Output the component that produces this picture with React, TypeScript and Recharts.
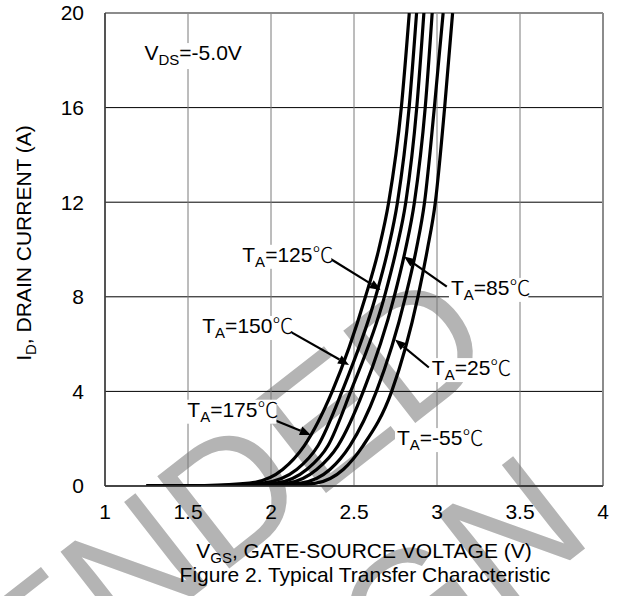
import { LineChart, Line, XAxis, YAxis, CartesianGrid, ReferenceLine, ReferenceDot } from 'recharts'

// drain current levels (A) at which each curve was read
const currents = [0, 0.02, 0.12, 0.7, 1.7, 4, 8, 10, 12, 16, 20]

// gate-source voltage (V) for each temperature at the currents above
const vgs175 = [1.25, 1.6, 1.87, 2.07, 2.2, 2.369, 2.569, 2.649, 2.709, 2.785, 2.833]
const vgs150 = [1.25, 1.7, 1.95, 2.155, 2.283, 2.428, 2.63, 2.705, 2.762, 2.832, 2.877]
const vgs125 = [1.25, 1.8, 2.03, 2.215, 2.343, 2.48, 2.683, 2.755, 2.812, 2.878, 2.921]
const vgs85 = [1.25, 1.9, 2.1, 2.275, 2.403, 2.556, 2.742, 2.81, 2.864, 2.929, 2.971]
const vgs25 = [1.25, 2.0, 2.18, 2.355, 2.475, 2.635, 2.81, 2.875, 2.925, 2.984, 3.037]
const vgsM55 = [1.25, 2.1, 2.27, 2.435, 2.554, 2.727, 2.885, 2.942, 2.99, 3.046, 3.094]

const xTicks = [1, 1.5, 2, 2.5, 3, 3.5, 4]
const yTicks = [0, 4, 8, 12, 16, 20]

const temps = ['175', '150', '125', '85', '25', '-55']

// label anchors in data coords (V, A) and arrow segments (from -> tip)
const labelPos: [number, number][] = [
  [1.496, 2.93],
  [1.586, 6.47],
  [1.827, 9.48],
  [3.084, 8.08],
  [2.969, 4.69],
  [2.759, 1.73],
]
const arrows: [number, number, number, number][] = [
  [1.901, 3.13, 2.24, 2.16],
  [2.097, 6.6, 2.47, 5.12],
  [2.35, 9.64, 2.661, 8.29],
  [3.059, 8.43, 2.801, 9.7],
  [2.951, 5.01, 2.747, 6.19],
]

const FONT = 'Arial, "Liberation Sans", sans-serif'
const CJK = '"Noto Sans CJK SC", sans-serif'

const series = [vgs175, vgs150, vgs125, vgs85, vgs25, vgsM55].map((vs) =>
  vs.map((v, i) => ({ v, i: currents[i] }))
)

function TempLabel({ cx, cy, t }: any) {
  const w = t.length * 11.7 + 56
  return (
    <g>
      <rect x={cx - 2} y={cy - 17} width={w} height={24} fill="#fff" />
      <text x={cx} y={cy} fontSize={21} fontFamily={FONT} fill="#000">
        T<tspan fontSize={15} dy={5}>A</tspan>
        <tspan dy={-5}>={t}</tspan>
        <tspan fontFamily={CJK} fontWeight={300}>℃</tspan>
      </text>
    </g>
  )
}

function VdsLabel({ cx, cy }: any) {
  return (
    <g>
      <rect x={cx - 2} y={cy - 17} width={98} height={26} fill="#fff" />
      <text x={cx} y={cy} fontSize={21} fontFamily={FONT} fill="#000">
        V<tspan fontSize={15} dy={5}>DS</tspan>
        <tspan dy={-5}>=-5.0V</tspan>
      </text>
    </g>
  )
}

function Arrow({ x1, y1, x2, y2 }: any) {
  const dx = x2 - x1
  const dy = y2 - y1
  const len = Math.sqrt(dx * dx + dy * dy) || 1
  const ux = dx / len
  const uy = dy / len
  const hl = 11
  const hw = 4.5
  const bx = x2 - ux * hl
  const by = y2 - uy * hl
  return (
    <g>
      <line x1={x1} y1={y1} x2={bx} y2={by} stroke="#000" strokeWidth={2.2} />
      <polygon
        points={`${x2},${y2} ${bx - uy * hw},${by + ux * hw} ${bx + uy * hw},${by - ux * hw}`}
        fill="#000"
      />
    </g>
  )
}

export default function App() {
  return (
    <div style={{ position: 'absolute', left: 0, top: 0, width: 628, height: 596, background: '#fff', overflow: 'hidden' }}>
      <svg width={628} height={596} style={{ position: 'absolute', left: 0, top: 0 }}>
        <g fill="#b4b4b4" fontFamily={FONT} fontSize={170}>
          <text x={501} y={356} textAnchor="end" transform="rotate(-38 501 356)">
            NOT RECOMMENDED
          </text>
          <text x={596} y={540} textAnchor="end" transform="rotate(-38 596 540)">
            FOR NEW DESIGN
          </text>
        </g>
      </svg>
      <div style={{ position: 'absolute', left: 0, top: 0 }}>
        <LineChart width={628} height={596} margin={{ top: 13, right: 25, bottom: 80, left: 0 }}>
          <CartesianGrid vertical={false} stroke="#000" strokeWidth={1} />
          <CartesianGrid horizontal={false} stroke="#7a7a7a" strokeWidth={1} />
          <XAxis
            type="number"
            dataKey="v"
            domain={[1, 4]}
            ticks={xTicks}
            allowDataOverflow
            height={30}
            tickSize={0}
            tickMargin={18}
            axisLine={{ stroke: '#333', strokeWidth: 1.5 }}
            tick={{ fontSize: 21, fill: '#000', fontFamily: FONT }}
          />
          <YAxis
            type="number"
            dataKey="i"
            domain={[0, 20]}
            ticks={yTicks}
            allowDataOverflow
            width={105}
            tickSize={0}
            tickMargin={21}
            axisLine={{ stroke: '#333', strokeWidth: 1.5 }}
            tick={{ fontSize: 21, fill: '#000', fontFamily: FONT }}
          />
          <ReferenceLine y={20} stroke="#8c8c8c" strokeWidth={2} />
          <ReferenceLine x={4} stroke="#8c8c8c" strokeWidth={2} />
          {series.map((d, k) => (
            <Line
              key={temps[k]}
              data={d}
              dataKey="i"
              type="monotone"
              stroke="#000"
              strokeWidth={3.2}
              dot={false}
              isAnimationActive={false}
            />
          ))}
          {arrows.map((a, k) => (
            <ReferenceLine
              key={'ar' + k}
              segment={[{ x: a[0], y: a[1] }, { x: a[2], y: a[3] }]}
              ifOverflow="visible"
              shape={(p: any) => <Arrow {...p} />}
            />
          ))}
          {labelPos.map((p, k) => (
            <ReferenceDot
              key={'lb' + k}
              x={p[0]}
              y={p[1]}
              r={0}
              ifOverflow="visible"
              shape={(s: any) => <TempLabel cx={s.cx} cy={s.cy} t={temps[k]} />}
            />
          ))}
          <ReferenceDot x={1.238} y={18.01} r={0} ifOverflow="visible" shape={(s: any) => <VdsLabel cx={s.cx} cy={s.cy} />} />
        </LineChart>
      </div>
      <svg width={628} height={596} style={{ position: 'absolute', left: 0, top: 0, pointerEvents: 'none' }}>
        <g fontFamily={FONT} fontSize={21} fill="#000">
          <text x={24} y={243} textAnchor="middle" transform="rotate(-90 24 243)" dy={7}>
            I<tspan fontSize={15} dy={5}>D</tspan>
            <tspan dy={-5}>, DRAIN CURRENT (A)</tspan>
          </text>
          <text x={364} y={558} textAnchor="middle">
            V<tspan fontSize={15} dy={5}>GS</tspan>
            <tspan dy={-5}>, GATE-SOURCE VOLTAGE (V)</tspan>
          </text>
          <text x={365} y={582} textAnchor="middle">
            Figure 2. Typical Transfer Characteristic
          </text>
        </g>
      </svg>
    </div>
  )
}
